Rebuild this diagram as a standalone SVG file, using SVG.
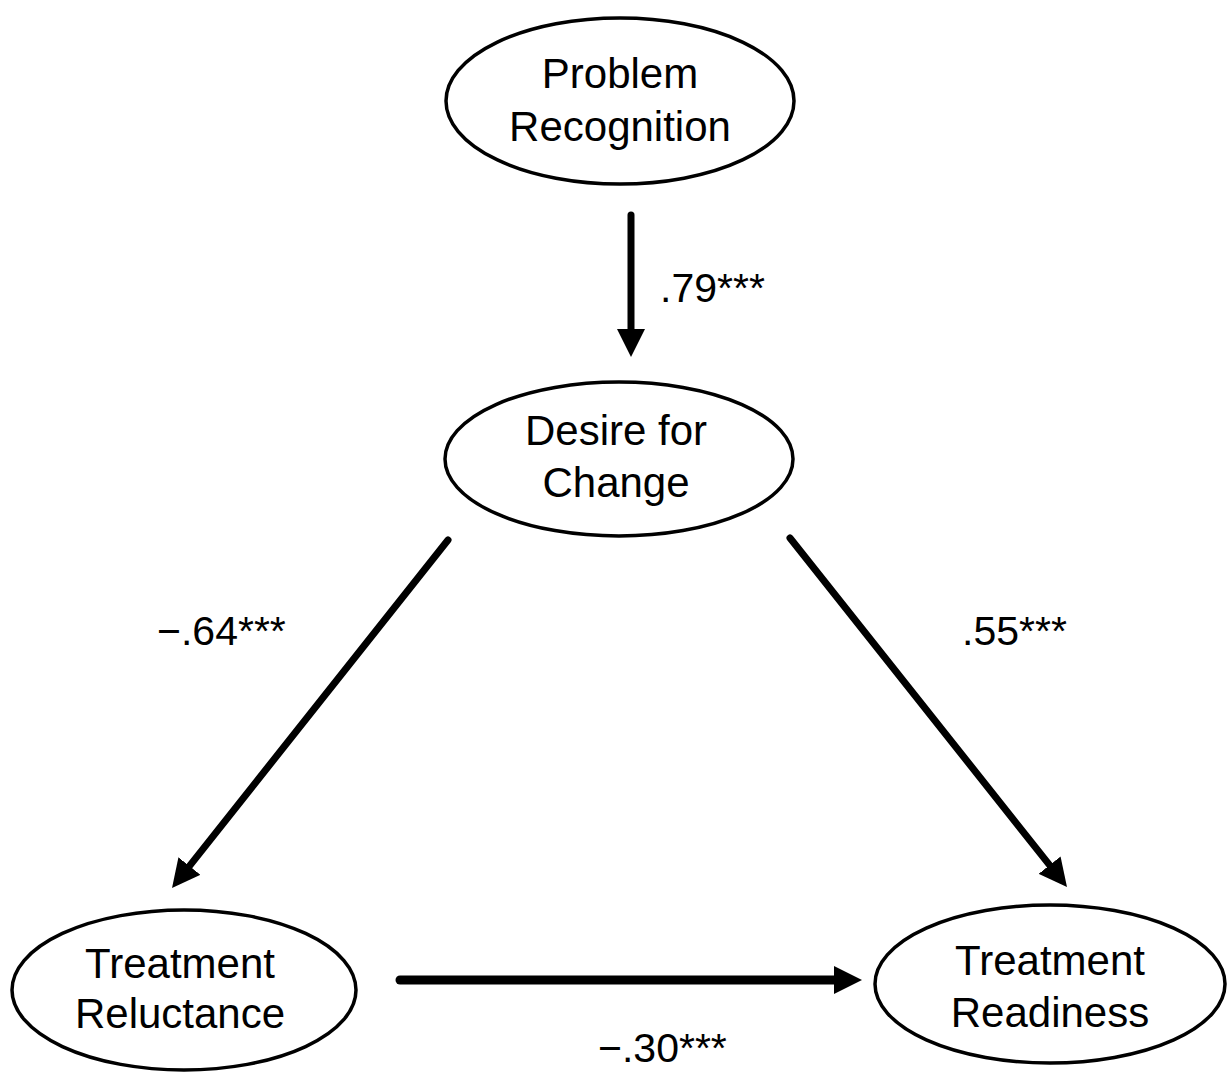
<svg xmlns="http://www.w3.org/2000/svg" width="1227" height="1076" viewBox="0 0 1227 1076">
<style>
.node ellipse{fill:#fff;stroke:#000;stroke-width:3.5}
.node text{font-family:"Liberation Sans",Arial,sans-serif;font-size:42px;fill:#000;text-anchor:middle}
.edge{stroke:#000;stroke-width:7;stroke-linecap:round;fill:none}
.lbl{font-family:"Liberation Sans",Arial,sans-serif;font-size:41px;fill:#000}
</style>
<defs>
<marker id="ah" markerUnits="userSpaceOnUse" markerWidth="28" markerHeight="28" refX="1" refY="14" orient="auto">
<path d="M0,0 L28,14 L0,28 z" fill="#000"/>
</marker>
</defs>
<rect width="1227" height="1076" fill="#fff"/>
<g id="connectors">
<line class="edge" x1="631" y1="215" x2="631" y2="330" marker-end="url(#ah)"/>
<line class="edge" x1="448" y1="540" x2="188.8" y2="866.8" marker-end="url(#ah)"/>
<line class="edge" x1="790" y1="538" x2="1050.2" y2="865.9" marker-end="url(#ah)"/>
<line class="edge" x1="400" y1="980" x2="835" y2="980" style="stroke-width:9" marker-end="url(#ah)"/>
<text class="lbl" x="660" y="302">.79***</text>
<text class="lbl" x="157" y="645">−.64***</text>
<text class="lbl" x="962" y="645">.55***</text>
<text class="lbl" x="598" y="1062">−.30***</text>
</g>
<g id="problem-recognition" class="node">
<ellipse cx="620" cy="101" rx="174" ry="83"/>
<text x="620" y="88">Problem</text>
<text x="620" y="141">Recognition</text>
</g>
<g id="desire-for-change" class="node">
<ellipse cx="619" cy="459" rx="174" ry="77"/>
<text x="616" y="445">Desire for</text>
<text x="616" y="497">Change</text>
</g>
<g id="treatment-reluctance" class="node">
<ellipse cx="184" cy="990" rx="172" ry="80"/>
<text x="180" y="978">Treatment</text>
<text x="180" y="1028">Reluctance</text>
</g>
<g id="treatment-readiness" class="node">
<ellipse cx="1050" cy="984" rx="175" ry="79"/>
<text x="1050" y="975">Treatment</text>
<text x="1050" y="1027">Readiness</text>
</g>
</svg>
